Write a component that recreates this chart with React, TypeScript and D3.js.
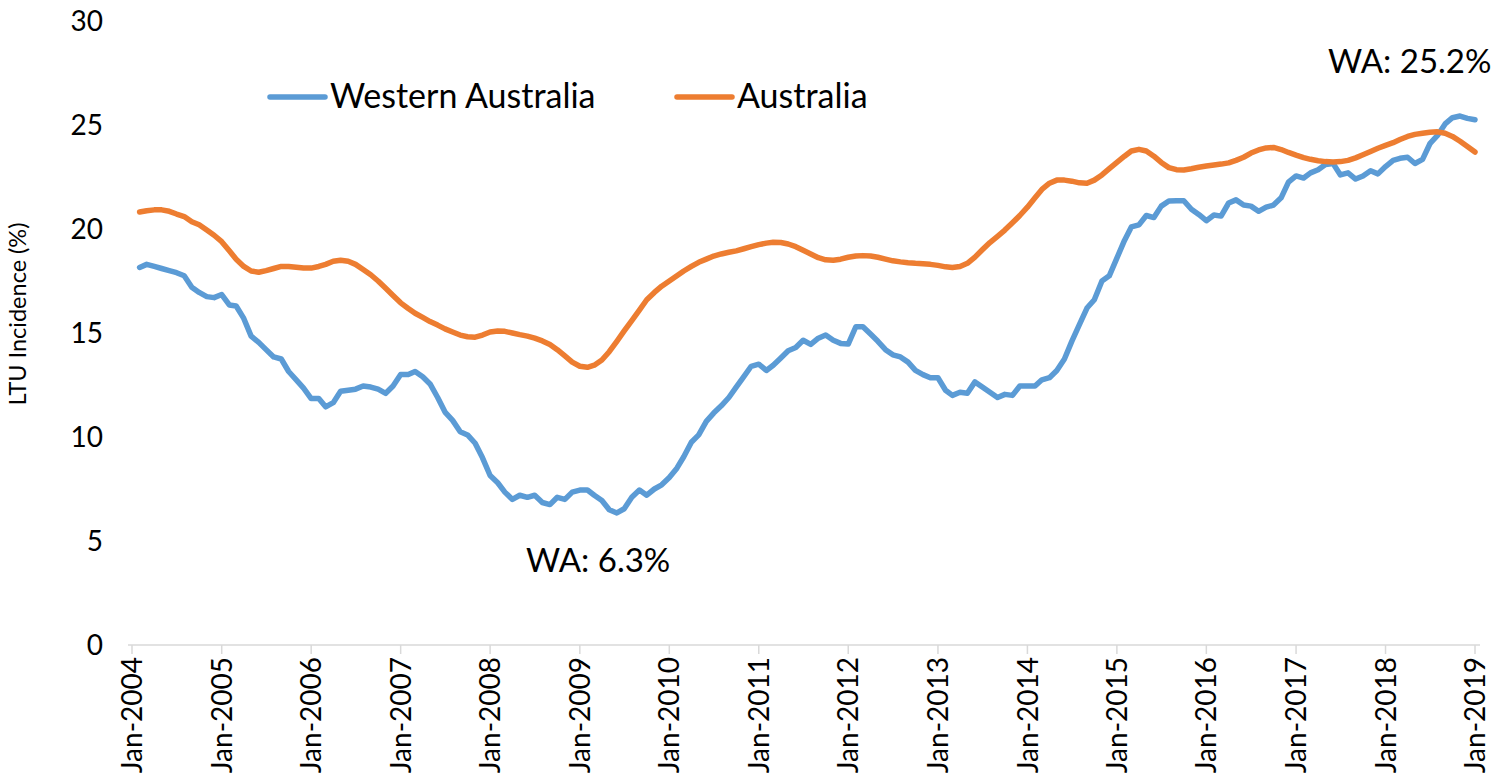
import React from 'react';
import * as d3 from 'd3';

// monthly series, Feb-2004 .. Jan-2019
const firstMonth = new Date(2004, 1, 1);
const lastMonth = new Date(2019, 0, 1);

const waValues = [
  18.15, 18.3, 18.2, 18.1, 18.0, 17.9, 17.75, 17.2, 16.95, 16.75, 16.7, 16.85,
  16.35, 16.3, 15.7, 14.85, 14.55, 14.2, 13.85, 13.75, 13.15, 12.75, 12.35, 11.85,
  11.85, 11.45, 11.65, 12.2, 12.25, 12.3, 12.45, 12.4, 12.3, 12.1, 12.45, 13.0,
  13.0, 13.15, 12.9, 12.55, 11.9, 11.2, 10.8, 10.25, 10.1, 9.7, 9.0, 8.15,
  7.8, 7.35, 7.0, 7.2, 7.1, 7.2, 6.85, 6.75, 7.1, 7.0, 7.35, 7.45,
  7.45, 7.2, 6.95, 6.5, 6.35, 6.55, 7.1, 7.45, 7.2, 7.5, 7.7, 8.05,
  8.5, 9.05, 9.75, 10.1, 10.75, 11.15, 11.5, 11.9, 12.4, 12.9, 13.4, 13.5,
  13.2, 13.45, 13.8, 14.15, 14.3, 14.65, 14.45, 14.75, 14.9, 14.65, 14.5, 14.47,
  15.3, 15.3, 14.95, 14.6, 14.2, 13.95, 13.85, 13.6, 13.2, 13.0, 12.85, 12.85,
  12.25, 12.0, 12.15, 12.1, 12.65, 12.4, 12.15, 11.9, 12.05, 12.0, 12.45, 12.45,
  12.45, 12.75, 12.85, 13.2, 13.75, 14.6, 15.4, 16.2, 16.6, 17.5, 17.75, 18.6,
  19.45, 20.1, 20.2, 20.65, 20.55, 21.1, 21.35, 21.36, 21.36, 20.95, 20.7, 20.4,
  20.67, 20.62, 21.25, 21.4, 21.15, 21.1, 20.85, 21.05, 21.15, 21.5, 22.25, 22.55,
  22.45, 22.7, 22.85, 23.1, 23.15, 22.6, 22.7, 22.4, 22.55, 22.8, 22.65, 23.0,
  23.3, 23.4, 23.45, 23.15, 23.35, 24.1, 24.5, 25.05, 25.35, 25.43, 25.32, 25.25,
];

const ausValues = [
  20.82, 20.88, 20.92, 20.92, 20.85, 20.72, 20.6, 20.35, 20.2, 19.95, 19.7, 19.39,
  18.95, 18.55, 18.2, 17.98, 17.92, 18.0, 18.1, 18.2, 18.2, 18.16, 18.12, 18.12,
  18.2, 18.3, 18.45, 18.5, 18.45, 18.3, 18.05, 17.8, 17.5, 17.15, 16.8, 16.45,
  16.18, 15.95, 15.75, 15.55, 15.38, 15.2, 15.05, 14.9, 14.82, 14.8, 14.9, 15.05,
  15.1, 15.08, 15.0, 14.92, 14.85, 14.75, 14.62, 14.45, 14.2, 13.9, 13.6, 13.4,
  13.35, 13.45, 13.7, 14.1, 14.6, 15.1, 15.6, 16.1, 16.6, 16.95, 17.25, 17.5,
  17.75, 17.98, 18.2, 18.4, 18.55, 18.7, 18.8, 18.88, 18.95, 19.05, 19.15, 19.25,
  19.32, 19.36, 19.35, 19.28, 19.15, 18.98, 18.8, 18.62, 18.52, 18.5, 18.55, 18.64,
  18.7, 18.72, 18.7, 18.64, 18.55, 18.47, 18.42, 18.38, 18.35, 18.33, 18.3, 18.25,
  18.18, 18.15, 18.2, 18.35, 18.65, 19.0, 19.35, 19.65, 19.95, 20.3, 20.65, 21.05,
  21.5, 21.9, 22.2, 22.35, 22.35, 22.3, 22.22, 22.2, 22.35, 22.6, 22.9, 23.2,
  23.5, 23.75, 23.83, 23.75, 23.5, 23.2, 22.95, 22.85, 22.84, 22.9, 22.97, 23.03,
  23.08, 23.12, 23.18, 23.3, 23.45, 23.65, 23.8, 23.9, 23.92, 23.82, 23.68, 23.55,
  23.43, 23.35, 23.28, 23.24, 23.22, 23.24, 23.3, 23.42, 23.57, 23.73, 23.88, 24.02,
  24.15, 24.3, 24.45, 24.55, 24.6, 24.65, 24.67, 24.6, 24.45, 24.22, 23.97, 23.7,
];

const yTicks = [0, 5, 10, 15, 20, 25, 30];
const seriesNames = ['Western Australia', 'Australia'];
const seriesColors = ['#5B9BD5', '#ED7D31'];
const annotationTexts = ['WA: 25.2%', 'WA: 6.3%'];

const W = 1498;
const H = 773;
const FONT = 'Lato, "Open Sans", sans-serif';

export default function App() {
  const months = d3.timeMonth.range(firstMonth, d3.timeMonth.offset(lastMonth, 1));
  const years = d3.timeYear.range(new Date(2004, 0, 1), new Date(2019, 0, 2));

  const x = d3.scaleTime()
    .domain([new Date(2004, 0, 1), new Date(2019, 0, 1)])
    .range([132, 1475]);
  const y = d3.scaleLinear().domain([0, 30]).range([645, 21]);

  const line = d3.line<number>()
    .x((_, i) => x(months[i]))
    .y(d => y(d));

  const fmt = d3.timeFormat('%b-%Y');
  const series = [waValues, ausValues];

  return (
    <svg width={W} height={H} style={{ position: 'absolute', left: 0, top: 0, background: '#fff' }}
      fontFamily={FONT}>
      {/* y tick labels, no axis line */}
      {yTicks.map(t => (
        <text key={t} x={103} y={y(t)} dy="0.36em" textAnchor="end" fontSize={28} fill="#000">{t}</text>
      ))}
      <text transform={`translate(26,${314}) rotate(-90)`} textAnchor="middle" fontSize={23.5} fill="#000">
        LTU Incidence (%)
      </text>

      {/* x axis */}
      <line x1={128} x2={1480} y1={y(0)} y2={y(0)} stroke="#D9D9D9" strokeWidth={1.5} />
      {years.map(d => (
        <g key={+d} transform={`translate(${x(d)},0)`}>
          <line y1={y(0)} y2={y(0) + 9} stroke="#D9D9D9" strokeWidth={1.5} />
          <text transform={`translate(0,${y(0) + 12}) rotate(-90)`} dy="0.36em" textAnchor="end"
            fontSize={28} fill="#000">{fmt(d)}</text>
        </g>
      ))}

      {/* lines */}
      {series.map((vals, i) => (
        <path key={i} d={line(vals) || ''} fill="none" stroke={seriesColors[i]} strokeWidth={5.5}
          strokeLinejoin="round" strokeLinecap="round" />
      ))}

      {/* legend */}
      {seriesNames.map((name, i) => {
        const lx = i === 0 ? 270 : 677;
        return (
          <g key={name}>
            <line x1={lx} x2={lx + 55} y1={97} y2={97} stroke={seriesColors[i]} strokeWidth={5.5} strokeLinecap="round" />
            <text x={lx + 60} y={108} fontSize={34} fill="#000">{name}</text>
          </g>
        );
      })}

      {/* annotations */}
      <text x={1328} y={73} fontSize={33} fill="#000">{annotationTexts[0]}</text>
      <text x={526} y={572} fontSize={33} fill="#000">{annotationTexts[1]}</text>
    </svg>
  );
}
